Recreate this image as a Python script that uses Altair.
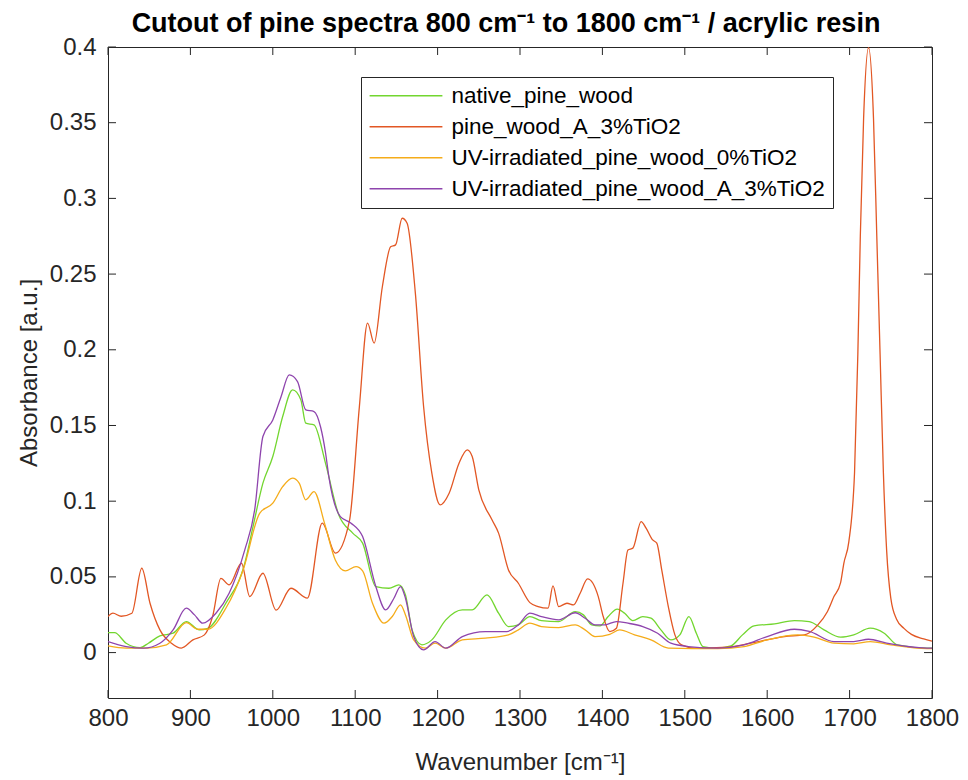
import altair as alt
import pandas as pd

# ---------------- data ----------------
series_names = [
    "native_pine_wood",
    "pine_wood_A_3%TiO2",
    "UV-irradiated_pine_wood_0%TiO2",
    "UV-irradiated_pine_wood_A_3%TiO2",
]
series_colors = ["#72d62f", "#e25724", "#f5ac1a", "#8e44ad"]

native_wn = [800, 808, 822, 839, 849, 863, 879, 895, 911, 921, 943, 966, 976, 988, 1000,
             1012, 1024, 1034, 1040, 1050, 1064, 1080, 1097, 1109, 1125, 1141, 1153, 1161,
             1169, 1181, 1193, 1210, 1230, 1242, 1260, 1274, 1286, 1298, 1312, 1326, 1347,
             1367, 1377, 1387, 1397, 1407, 1418, 1427, 1437, 1449, 1459, 1471, 1483, 1494,
             1505, 1514, 1522, 1540, 1556, 1570, 1584, 1609, 1633, 1651, 1669, 1689, 1705,
             1725, 1742, 1758, 1794, 1800]
native_abs = [0.0132, 0.0132, 0.0062, 0.0033, 0.0062, 0.011, 0.0128, 0.0205, 0.015, 0.016,
              0.0326, 0.059, 0.0832, 0.1119, 0.1295, 0.1559, 0.1735, 0.167, 0.1515, 0.1504,
              0.125, 0.091, 0.0789, 0.0723, 0.0436, 0.0425, 0.0447, 0.0381, 0.015, 0.0051,
              0.0084, 0.0216, 0.0282, 0.0282, 0.0381, 0.026, 0.0172, 0.0183, 0.0238, 0.0211,
              0.0205, 0.027, 0.0249, 0.0183, 0.0176, 0.0238, 0.0287, 0.026, 0.0211, 0.0238,
              0.0227, 0.015, 0.0084, 0.0117, 0.0238, 0.0128, 0.004, 0.003, 0.0044, 0.0117,
              0.0176, 0.019, 0.0211, 0.0205, 0.015, 0.0102, 0.0117, 0.0161, 0.0128, 0.0051,
              0.003, 0.003]

pine_tio2_wn = [800, 806, 816, 829, 841, 851, 863, 877, 889, 903, 917, 927, 937, 947, 962,
                972, 988, 1004, 1022, 1042, 1060, 1076, 1093, 1105, 1115, 1123, 1133, 1143,
                1149, 1157, 1163, 1173, 1183, 1193, 1203, 1214, 1226, 1236, 1242, 1250, 1266,
                1274, 1286, 1298, 1312, 1322, 1334, 1340, 1347, 1357, 1365, 1373, 1382, 1395,
                1401, 1409, 1417, 1425, 1431, 1437, 1447, 1453, 1461, 1466, 1472, 1480, 1488,
                1496, 1512, 1552, 1580, 1621, 1645, 1661, 1673, 1681, 1689, 1693, 1699, 1706,
                1710, 1713, 1717, 1723, 1729, 1733, 1737, 1741, 1745, 1750, 1757, 1766, 1775,
                1790, 1800]
pine_tio2_abs = [0.0238, 0.026, 0.024, 0.026, 0.0557, 0.0326, 0.015, 0.0062, 0.003, 0.0084,
                 0.0117, 0.024, 0.049, 0.0447, 0.059, 0.037, 0.0524, 0.028, 0.0425, 0.036,
                 0.0855, 0.0657, 0.087, 0.162, 0.2176, 0.2044, 0.2418, 0.268, 0.2693, 0.2869,
                 0.2836, 0.2374, 0.1625, 0.1185, 0.0976, 0.1053, 0.1251, 0.1339, 0.1295, 0.1075,
                 0.0877, 0.0789, 0.0546, 0.0458, 0.033, 0.0304, 0.0293, 0.044, 0.0304, 0.0326,
                 0.0315, 0.0392, 0.0487, 0.037, 0.0238, 0.0139, 0.0161, 0.0458, 0.0678, 0.069,
                 0.0865, 0.0822, 0.0744, 0.0723, 0.0546, 0.0304, 0.0117, 0.0051, 0.003, 0.0036,
                 0.0062, 0.0106, 0.0117, 0.018, 0.027, 0.037, 0.046, 0.059, 0.073, 0.119, 0.197,
                 0.275, 0.353, 0.3995, 0.353, 0.275, 0.197, 0.119, 0.067, 0.036, 0.022, 0.016,
                 0.012, 0.009, 0.0075]

uv_0_wn = [800, 822, 847, 871, 895, 909, 921, 943, 964, 984, 1000, 1012, 1024, 1032, 1040,
           1050, 1063, 1076, 1088, 1101, 1109, 1121, 1135, 1145, 1155, 1161, 1171, 1185, 1197,
           1210, 1230, 1258, 1286, 1298, 1312, 1326, 1347, 1367, 1379, 1391, 1409, 1421, 1439,
           1459, 1480, 1540, 1572, 1600, 1637, 1657, 1681, 1705, 1725, 1750, 1794, 1800]
uv_0_abs = [0.0044, 0.0029, 0.003, 0.0051, 0.0198, 0.0154, 0.0154, 0.0293, 0.0546, 0.092,
            0.0987, 0.1096, 0.1152, 0.112, 0.1009, 0.1063, 0.085, 0.061, 0.054, 0.0568, 0.054,
            0.0326, 0.0194, 0.0238, 0.0315, 0.0249, 0.0084, 0.0029, 0.0062, 0.0029, 0.0084,
            0.0095, 0.0117, 0.015, 0.0194, 0.0172, 0.0165, 0.0183, 0.015, 0.0106, 0.0121, 0.015,
            0.0117, 0.0084, 0.003, 0.0026, 0.004, 0.0084, 0.0117, 0.0102, 0.0062, 0.0058,
            0.0073, 0.0051, 0.0026, 0.0026]

uv_3_wn = [800, 822, 843, 863, 879, 895, 905, 915, 931, 947, 966, 978, 988, 1000, 1010, 1020,
           1030, 1040, 1050, 1058, 1064, 1068, 1082, 1095, 1109, 1125, 1137, 1147, 1155, 1161,
           1171, 1183, 1197, 1210, 1230, 1258, 1284, 1298, 1312, 1326, 1347, 1367, 1379, 1391,
           1403, 1417, 1431, 1449, 1467, 1483, 1504, 1540, 1572, 1600, 1633, 1651, 1681, 1705,
           1723, 1745, 1794, 1800]
uv_3_abs = [0.0073, 0.004, 0.0029, 0.0062, 0.015, 0.0293, 0.0249, 0.0194, 0.026, 0.0392, 0.0678,
            0.0943, 0.1427, 0.1537, 0.169, 0.1834, 0.179, 0.1603, 0.1592, 0.149, 0.132, 0.1162,
            0.0898, 0.0855, 0.0766, 0.0436, 0.0282, 0.0359, 0.0436, 0.0359, 0.0106, 0.0018,
            0.0073, 0.0029, 0.0106, 0.0139, 0.0139, 0.0183, 0.026, 0.0238, 0.0216, 0.0263,
            0.0227, 0.0183, 0.0183, 0.0205, 0.0194, 0.0172, 0.0128, 0.0062, 0.004, 0.003,
            0.0051, 0.0106, 0.0154, 0.014, 0.0073, 0.0073, 0.0088, 0.0062, 0.003, 0.003]

x_ticks = [800, 900, 1000, 1100, 1200, 1300, 1400, 1500, 1600, 1700, 1800]
y_ticks = [0, 0.05, 0.1, 0.15, 0.2, 0.25, 0.3, 0.35, 0.4]

# ---------------- tables ----------------
rows = []
for name, wn, ab in zip(series_names,
                        [native_wn, pine_tio2_wn, uv_0_wn, uv_3_wn],
                        [native_abs, pine_tio2_abs, uv_0_abs, uv_3_abs]):
    for w, a in zip(wn, ab):
        rows.append({"series": name, "wavenumber": w, "absorbance": a})
df = pd.DataFrame(rows)
xt = pd.DataFrame({"wavenumber": x_ticks})
yt = pd.DataFrame({"absorbance": y_ticks})

W, H = 824, 651
FONT = "Liberation Sans"
INK = "#262626"

x_scale = alt.Scale(domain=[800, 1800], nice=False, zero=False)
y_scale = alt.Scale(domain=[-0.03, 0.4], nice=False, zero=False)
x_axis = alt.Axis(title="Wavenumber [cm⁻¹]", values=x_ticks, format="d", tickSize=0,
                  domain=False, grid=False, labelPadding=8, titlePadding=20,
                  labelFlush=False, labelOverlap=False)
y_axis = alt.Axis(title="Absorbance [a.u.]", values=y_ticks, format="~g", tickSize=0,
                  domain=False, grid=False, labelPadding=12, titlePadding=8,
                  labelFlush=False, labelOverlap=False)

lines = alt.Chart(df).mark_line(strokeWidth=1.3, interpolate="monotone", clip=True).encode(
    x=alt.X("wavenumber:Q", scale=x_scale, axis=x_axis),
    y=alt.Y("absorbance:Q", scale=y_scale, axis=y_axis),
    color=alt.Color(
        "series:N",
        scale=alt.Scale(domain=series_names, range=series_colors),
        legend=alt.Legend(
            title=None, orient="none", legendX=253, legendY=30,
            symbolType="stroke", symbolSize=5300, symbolStrokeWidth=1.3,
            labelFont=FONT, labelFontSize=22.5, labelColor="black", labelLimit=600,
            labelOffset=8, rowPadding=8, padding=7.5, clipHeight=22.5,
            strokeColor=INK, fillColor="white", cornerRadius=0,
        ),
    ),
    detail="series:N",
)

tick_kw = dict(color=INK, strokeWidth=1)
bottom_ticks = alt.Chart(xt).mark_rule(**tick_kw).encode(
    x=alt.X("wavenumber:Q", scale=x_scale, axis=x_axis), y=alt.value(H), y2=alt.value(H - 8))
top_ticks = alt.Chart(xt).mark_rule(**tick_kw).encode(
    x=alt.X("wavenumber:Q", scale=x_scale, axis=x_axis), y=alt.value(0), y2=alt.value(8))
left_ticks = alt.Chart(yt).mark_rule(**tick_kw).encode(
    y=alt.Y("absorbance:Q", scale=y_scale, axis=y_axis), x=alt.value(0), x2=alt.value(8))
right_ticks = alt.Chart(yt).mark_rule(**tick_kw).encode(
    y=alt.Y("absorbance:Q", scale=y_scale, axis=y_axis), x=alt.value(W), x2=alt.value(W - 8))

chart = alt.layer(bottom_ticks, top_ticks, left_ticks, right_ticks, lines).properties(
    width=W, height=H,
    title=alt.Title("Cutout of pine spectra 800 cm⁻¹ to 1800 cm⁻¹ / acrylic resin",
                    font=FONT, fontSize=27, fontWeight="bold", color="black",
                    anchor="middle", baseline="alphabetic", offset=13, dx=-14, dy=37),
    autosize=alt.AutoSizeParams(type="none"),
    padding={"left": 108, "top": 47, "right": 36, "bottom": 82},
    background="white",
).configure_view(stroke=INK, strokeWidth=1).configure_axis(
    labelFont=FONT, labelFontSize=24, labelColor=INK,
    titleFont=FONT, titleFontSize=24, titleFontWeight="normal", titleColor=INK,
)

chart.save("out.html", embed_options={"renderer": "svg", "actions": False})
